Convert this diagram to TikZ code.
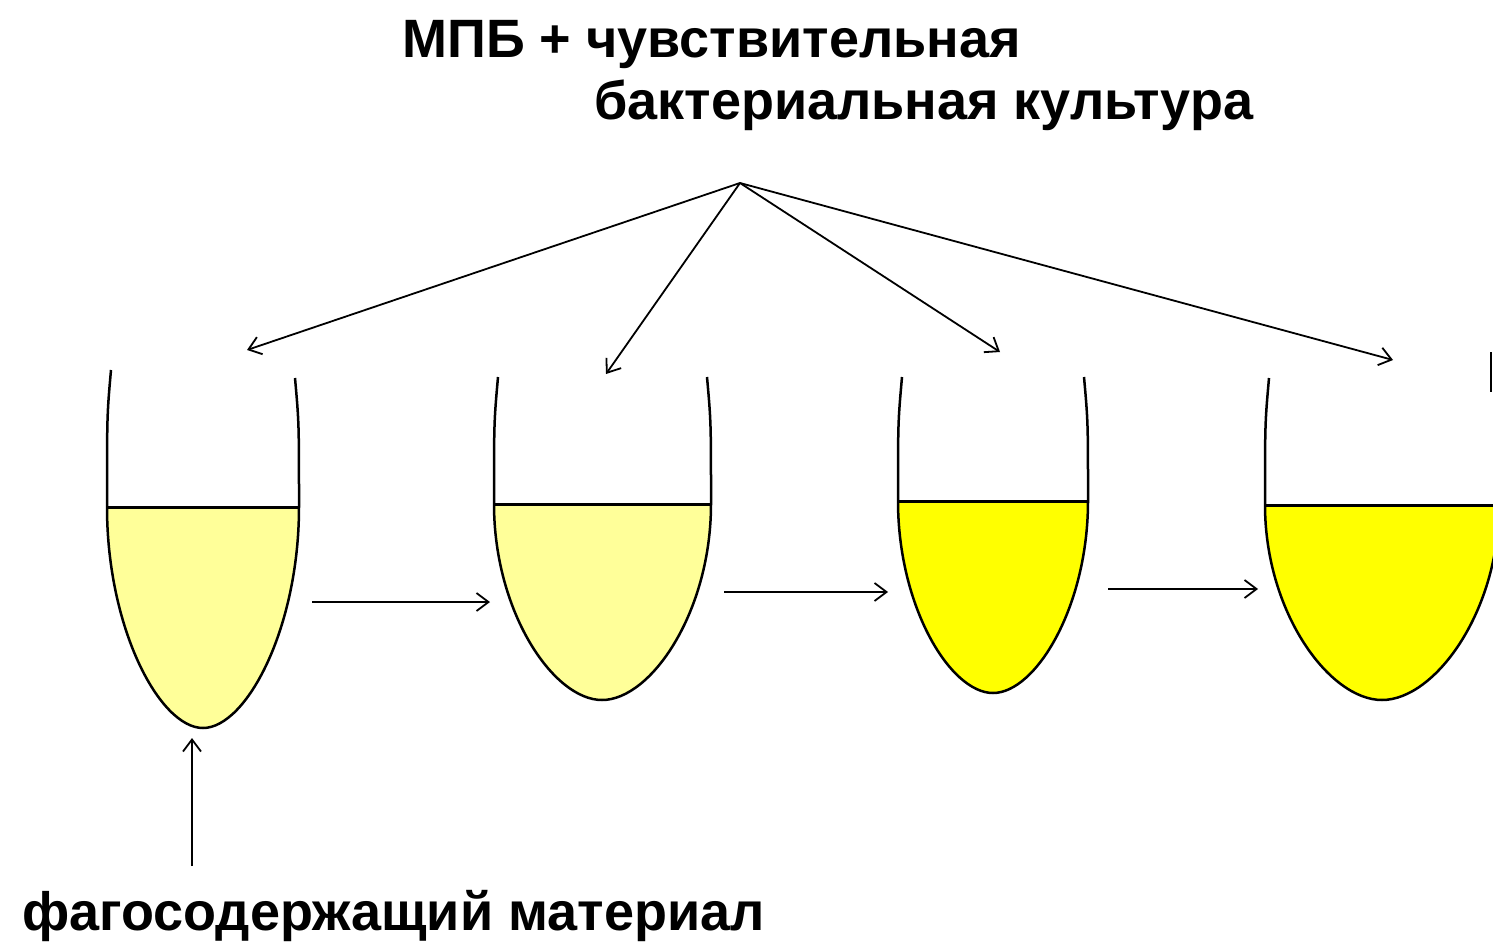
\documentclass[tikz,border=0pt]{standalone}
\usepackage{fontspec}
\setmainfont{Liberation Sans}
\usetikzlibrary{arrows.meta}
\definecolor{paleyellow}{HTML}{FFFF99}
\definecolor{brightyellow}{HTML}{FFFF00}
\tikzset{
  conn/.style={line width=1.8pt, -{Straight Barb[length=12pt,width=18pt,line width=1.8pt]}},
  wall/.style={line width=2.5pt},
  surface/.style={line width=3pt},
  txt/.style={font=\fontsize{54}{60}\selectfont\bfseries, inner sep=0pt, anchor=base west},
}
\newcommand\drawtube[8]{%
  \pgfmathsetmacro\tyA{#5+0.55*(#7-#5)}%
  \pgfmathsetmacro\txA{#6-0.45*(#6-#1)}%
  \pgfmathsetmacro\txB{#6+0.45*(#2-#6)}%
  \fill[#8] (#1,#5) .. controls (#1,\tyA) and (\txA,#7) .. (#6,#7) .. controls (\txB,#7) and (#2,\tyA) .. (#2,#5) -- cycle;
  \draw[wall] (#1+4,#3) .. controls (#1,#3+45) .. (#1,#5) .. controls (#1,\tyA) and (\txA,#7) .. (#6,#7) .. controls (\txB,#7) and (#2,\tyA) .. (#2,#5) .. controls (#2,#4+45) .. (#2-4,#4);
  \draw[surface] (#1,#5) -- (#2,#5);
}
\begin{document}
\begin{tikzpicture}[x=1pt,y=-1pt]
\useasboundingbox[fill=white] (0,0) rectangle (1493,944);
\begin{scope}
\clip (0,0) rectangle (1493,944);
\drawtube{107}{299}{370}{378}{507}{203}{728}{paleyellow}
\drawtube{494}{711}{377}{377}{504}{602}{700}{paleyellow}
\drawtube{898}{1088}{377}{377}{501}{993}{693}{brightyellow}
\drawtube{1265}{1499}{378}{378}{505}{1382}{700}{brightyellow}
\draw[wall] (1491,352) -- (1491,392);
\end{scope}
\node[txt] (title1) at (402,58) {МПБ + чувствительная};
\node[txt] (title2) at (594,120) {бактериальная культура};
\node[txt] (phage) at (22,930) {фагосодержащий материал};
\coordinate (apex) at (740,183);
\coordinate (in1) at (247,350);
\coordinate (in2) at (606,374);
\coordinate (in3) at (1000,352);
\coordinate (in4) at (1393,360);
\draw[conn] (apex) -- (in1);
\draw[conn] (apex) -- (in2);
\draw[conn] (apex) -- (in3);
\draw[conn] (apex) -- (in4);
\coordinate (h1a) at (312,602); \coordinate (h1b) at (490,602);
\coordinate (h2a) at (724,592); \coordinate (h2b) at (888,592);
\coordinate (h3a) at (1108,589); \coordinate (h3b) at (1258,589);
\draw[conn] (h1a) -- (h1b);
\draw[conn] (h2a) -- (h2b);
\draw[conn] (h3a) -- (h3b);
\coordinate (va) at (192,866); \coordinate (vb) at (192,738);
\draw[conn] (va) -- (vb);
\end{tikzpicture}
\end{document}
